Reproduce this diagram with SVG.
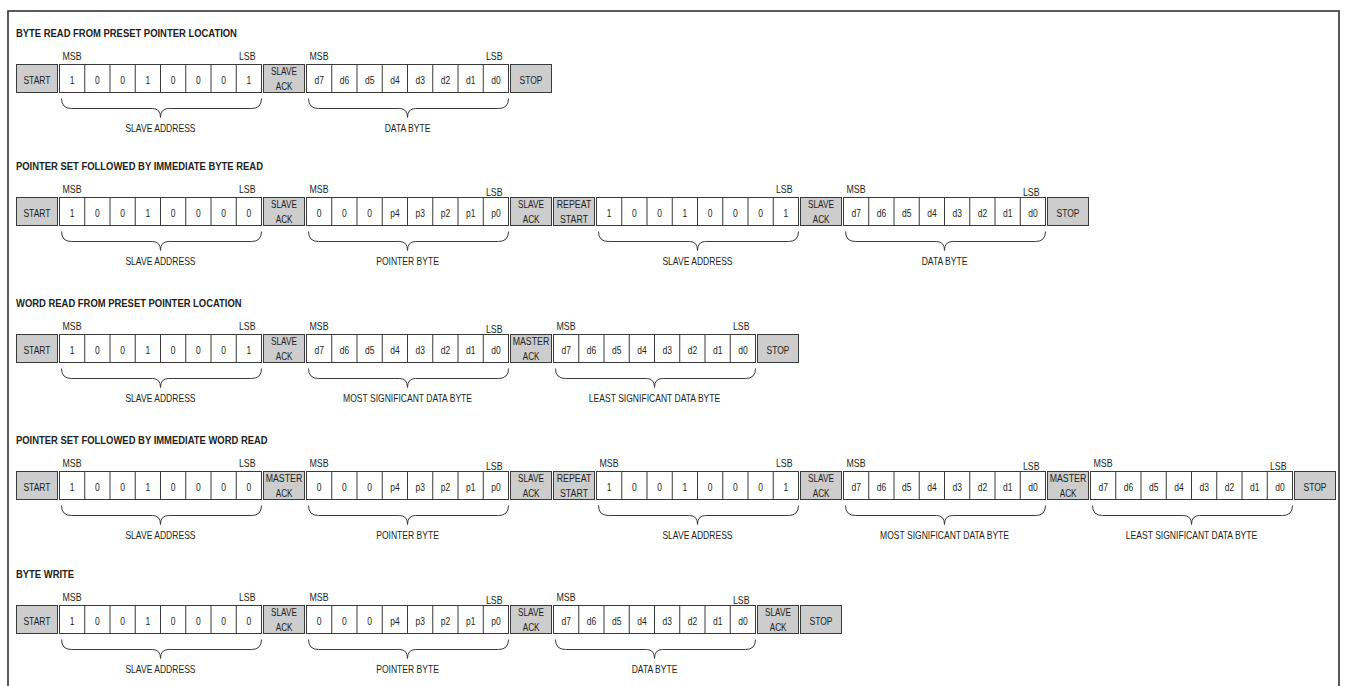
<svg xmlns="http://www.w3.org/2000/svg" xmlns:xlink="http://www.w3.org/1999/xlink" width="1346" height="686" viewBox="0 0 1346 686">
<style>
.frame{fill:none;stroke:#333;stroke-width:1.6}
.sp{fill:#cdcdcd;stroke:#3a3a3a;stroke-width:1}
.bits{fill:#fff;stroke:#3a3a3a;stroke-width:1}
.div{fill:none;stroke:#3a3a3a;stroke-width:1}
.brace{fill:none;stroke:#3a3a3a;stroke-width:1}
text{font-family:"Liberation Sans",Arial,sans-serif;fill:#231f20;transform-box:fill-box}
.t{font-size:10.5px;font-weight:bold;transform-origin:0% 50%;transform:scaleX(0.9)}
.c{font-size:11.5px;text-anchor:middle;transform-origin:50% 50%;transform:scaleX(0.74)}
.s{font-size:10.5px;text-anchor:middle;transform-origin:50% 50%;transform:scaleX(0.78)}
.w{font-size:10.5px;text-anchor:middle;transform-origin:50% 50%;transform:scaleX(0.84)}
.m{font-size:11px;transform-origin:0% 50%;transform:scaleX(0.8)}
.l{font-size:11px;text-anchor:end;transform-origin:100% 50%;transform:scaleX(0.8)}
.b{font-size:10.7px;text-anchor:middle;transform-origin:50% 50%;transform:scaleX(0.8)}
</style>
<defs>
<g id="cells"><rect class="bits" width="202" height="28"/><path class="div" d="M25.25 0v28M50.5 0v28M75.75 0v28M101 0v28M126.25 0v28M151.5 0v28M176.75 0v28"/></g>
<path id="brace" class="brace" d="M2 34Q2 44 12 44H93Q101 44 101 53Q101 44 109 44H192Q202 44 202 34"/>
<rect id="spbox" class="sp" width="41" height="28"/>
</defs>
<rect class="frame" x="8" y="11" width="1331" height="700"/>

<!-- ROW 1 -->
<g id="row1">
<text class="t" x="16" y="37">BYTE READ FROM PRESET POINTER LOCATION</text>
<g id="r1-start" transform="translate(16.5,64.5)"><use href="#spbox"/><text class="c" x="20.5" y="19.5">START</text></g>
<g id="r1-addr" transform="translate(59.5,64.5)"><use href="#cells"/><use href="#brace"/>
<text class="c" x="12.6" y="19.5">1</text><text class="c" x="37.9" y="19.5">0</text><text class="c" x="63.1" y="19.5">0</text><text class="c" x="88.4" y="19.5">1</text><text class="c" x="113.6" y="19.5">0</text><text class="c" x="138.9" y="19.5">0</text><text class="c" x="164.1" y="19.5">0</text><text class="c" x="189.4" y="19.5">1</text>
<text class="m" x="3" y="-5">MSB</text><text class="l" x="196" y="-5">LSB</text><text class="b" x="101" y="68">SLAVE ADDRESS</text></g>
<g id="r1-ack1" transform="translate(263.5,64.5)"><use href="#spbox"/><text class="s" x="20.5" y="11">SLAVE</text><text class="s" x="20.5" y="26">ACK</text></g>
<g id="r1-data" transform="translate(306.5,64.5)"><use href="#cells"/><use href="#brace"/>
<text class="c" x="12.6" y="19.5">d7</text><text class="c" x="37.9" y="19.5">d6</text><text class="c" x="63.1" y="19.5">d5</text><text class="c" x="88.4" y="19.5">d4</text><text class="c" x="113.6" y="19.5">d3</text><text class="c" x="138.9" y="19.5">d2</text><text class="c" x="164.1" y="19.5">d1</text><text class="c" x="189.4" y="19.5">d0</text>
<text class="m" x="3" y="-5">MSB</text><text class="l" x="196" y="-5">LSB</text><text class="b" x="101" y="68">DATA BYTE</text></g>
<g id="r1-stop" transform="translate(510.5,64.5)"><use href="#spbox"/><text class="c" x="20.5" y="19.5">STOP</text></g>
</g>

<!-- ROW 2 -->
<g id="row2">
<text class="t" x="16" y="170">POINTER SET FOLLOWED BY IMMEDIATE BYTE READ</text>
<g id="r2-start" transform="translate(16.5,197.5)"><use href="#spbox"/><text class="c" x="20.5" y="19.5">START</text></g>
<g id="r2-addr" transform="translate(59.5,197.5)"><use href="#cells"/><use href="#brace"/>
<text class="c" x="12.6" y="19.5">1</text><text class="c" x="37.9" y="19.5">0</text><text class="c" x="63.1" y="19.5">0</text><text class="c" x="88.4" y="19.5">1</text><text class="c" x="113.6" y="19.5">0</text><text class="c" x="138.9" y="19.5">0</text><text class="c" x="164.1" y="19.5">0</text><text class="c" x="189.4" y="19.5">0</text>
<text class="m" x="3" y="-5">MSB</text><text class="l" x="196" y="-5">LSB</text><text class="b" x="101" y="68">SLAVE ADDRESS</text></g>
<g id="r2-ack1" transform="translate(263.5,197.5)"><use href="#spbox"/><text class="s" x="20.5" y="11">SLAVE</text><text class="s" x="20.5" y="26">ACK</text></g>
<g id="r2-ptr" transform="translate(306.5,197.5)"><use href="#cells"/><use href="#brace"/>
<text class="c" x="12.6" y="19.5">0</text><text class="c" x="37.9" y="19.5">0</text><text class="c" x="63.1" y="19.5">0</text><text class="c" x="88.4" y="19.5">p4</text><text class="c" x="113.6" y="19.5">p3</text><text class="c" x="138.9" y="19.5">p2</text><text class="c" x="164.1" y="19.5">p1</text><text class="c" x="189.4" y="19.5">p0</text>
<text class="m" x="3" y="-5">MSB</text><text class="l" x="196" y="-2">LSB</text><text class="b" x="101" y="68">POINTER BYTE</text></g>
<g id="r2-ack2" transform="translate(510.5,197.5)"><use href="#spbox"/><text class="s" x="20.5" y="11">SLAVE</text><text class="s" x="20.5" y="26">ACK</text></g>
<g id="r2-rstart" transform="translate(553.5,197.5)"><use href="#spbox"/><text class="w" x="20.5" y="11">REPEAT</text><text class="w" x="20.5" y="26">START</text></g>
<g id="r2-addr2" transform="translate(596.5,197.5)"><use href="#cells"/><use href="#brace"/>
<text class="c" x="12.6" y="19.5">1</text><text class="c" x="37.9" y="19.5">0</text><text class="c" x="63.1" y="19.5">0</text><text class="c" x="88.4" y="19.5">1</text><text class="c" x="113.6" y="19.5">0</text><text class="c" x="138.9" y="19.5">0</text><text class="c" x="164.1" y="19.5">0</text><text class="c" x="189.4" y="19.5">1</text>
<text class="l" x="196" y="-5">LSB</text><text class="b" x="101" y="68">SLAVE ADDRESS</text></g>
<g id="r2-ack3" transform="translate(800.5,197.5)"><use href="#spbox"/><text class="s" x="20.5" y="11">SLAVE</text><text class="s" x="20.5" y="26">ACK</text></g>
<g id="r2-data" transform="translate(843.5,197.5)"><use href="#cells"/><use href="#brace"/>
<text class="c" x="12.6" y="19.5">d7</text><text class="c" x="37.9" y="19.5">d6</text><text class="c" x="63.1" y="19.5">d5</text><text class="c" x="88.4" y="19.5">d4</text><text class="c" x="113.6" y="19.5">d3</text><text class="c" x="138.9" y="19.5">d2</text><text class="c" x="164.1" y="19.5">d1</text><text class="c" x="189.4" y="19.5">d0</text>
<text class="m" x="3" y="-5">MSB</text><text class="l" x="196" y="-2">LSB</text><text class="b" x="101" y="68">DATA BYTE</text></g>
<g id="r2-stop" transform="translate(1047.5,197.5)"><use href="#spbox"/><text class="c" x="20.5" y="19.5">STOP</text></g>
</g>

<!-- ROW 3 -->
<g id="row3">
<text class="t" x="16" y="307">WORD READ FROM PRESET POINTER LOCATION</text>
<g id="r3-start" transform="translate(16.5,334.5)"><use href="#spbox"/><text class="c" x="20.5" y="19.5">START</text></g>
<g id="r3-addr" transform="translate(59.5,334.5)"><use href="#cells"/><use href="#brace"/>
<text class="c" x="12.6" y="19.5">1</text><text class="c" x="37.9" y="19.5">0</text><text class="c" x="63.1" y="19.5">0</text><text class="c" x="88.4" y="19.5">1</text><text class="c" x="113.6" y="19.5">0</text><text class="c" x="138.9" y="19.5">0</text><text class="c" x="164.1" y="19.5">0</text><text class="c" x="189.4" y="19.5">1</text>
<text class="m" x="3" y="-5">MSB</text><text class="l" x="196" y="-5">LSB</text><text class="b" x="101" y="68">SLAVE ADDRESS</text></g>
<g id="r3-ack1" transform="translate(263.5,334.5)"><use href="#spbox"/><text class="s" x="20.5" y="11">SLAVE</text><text class="s" x="20.5" y="26">ACK</text></g>
<g id="r3-msdata" transform="translate(306.5,334.5)"><use href="#cells"/><use href="#brace"/>
<text class="c" x="12.6" y="19.5">d7</text><text class="c" x="37.9" y="19.5">d6</text><text class="c" x="63.1" y="19.5">d5</text><text class="c" x="88.4" y="19.5">d4</text><text class="c" x="113.6" y="19.5">d3</text><text class="c" x="138.9" y="19.5">d2</text><text class="c" x="164.1" y="19.5">d1</text><text class="c" x="189.4" y="19.5">d0</text>
<text class="m" x="3" y="-5">MSB</text><text class="l" x="196" y="-2">LSB</text><text class="b" x="101" y="68">MOST SIGNIFICANT DATA BYTE</text></g>
<g id="r3-mack" transform="translate(510.5,334.5)"><use href="#spbox"/><text class="w" x="20.5" y="11">MASTER</text><text class="s" x="20.5" y="26">ACK</text></g>
<g id="r3-lsdata" transform="translate(553.5,334.5)"><use href="#cells"/><use href="#brace"/>
<text class="c" x="12.6" y="19.5">d7</text><text class="c" x="37.9" y="19.5">d6</text><text class="c" x="63.1" y="19.5">d5</text><text class="c" x="88.4" y="19.5">d4</text><text class="c" x="113.6" y="19.5">d3</text><text class="c" x="138.9" y="19.5">d2</text><text class="c" x="164.1" y="19.5">d1</text><text class="c" x="189.4" y="19.5">d0</text>
<text class="m" x="3" y="-5">MSB</text><text class="l" x="196" y="-5">LSB</text><text class="b" x="101" y="68">LEAST SIGNIFICANT DATA BYTE</text></g>
<g id="r3-stop" transform="translate(757.5,334.5)"><use href="#spbox"/><text class="c" x="20.5" y="19.5">STOP</text></g>
</g>

<!-- ROW 4 -->
<g id="row4">
<text class="t" x="16" y="444">POINTER SET FOLLOWED BY IMMEDIATE WORD READ</text>
<g id="r4-start" transform="translate(16.5,471.5)"><use href="#spbox"/><text class="c" x="20.5" y="19.5">START</text></g>
<g id="r4-addr" transform="translate(59.5,471.5)"><use href="#cells"/><use href="#brace"/>
<text class="c" x="12.6" y="19.5">1</text><text class="c" x="37.9" y="19.5">0</text><text class="c" x="63.1" y="19.5">0</text><text class="c" x="88.4" y="19.5">1</text><text class="c" x="113.6" y="19.5">0</text><text class="c" x="138.9" y="19.5">0</text><text class="c" x="164.1" y="19.5">0</text><text class="c" x="189.4" y="19.5">0</text>
<text class="m" x="3" y="-5">MSB</text><text class="l" x="196" y="-5">LSB</text><text class="b" x="101" y="68">SLAVE ADDRESS</text></g>
<g id="r4-mack1" transform="translate(263.5,471.5)"><use href="#spbox"/><text class="w" x="20.5" y="11">MASTER</text><text class="s" x="20.5" y="26">ACK</text></g>
<g id="r4-ptr" transform="translate(306.5,471.5)"><use href="#cells"/><use href="#brace"/>
<text class="c" x="12.6" y="19.5">0</text><text class="c" x="37.9" y="19.5">0</text><text class="c" x="63.1" y="19.5">0</text><text class="c" x="88.4" y="19.5">p4</text><text class="c" x="113.6" y="19.5">p3</text><text class="c" x="138.9" y="19.5">p2</text><text class="c" x="164.1" y="19.5">p1</text><text class="c" x="189.4" y="19.5">p0</text>
<text class="m" x="3" y="-5">MSB</text><text class="l" x="196" y="-2">LSB</text><text class="b" x="101" y="68">POINTER BYTE</text></g>
<g id="r4-ack2" transform="translate(510.5,471.5)"><use href="#spbox"/><text class="s" x="20.5" y="11">SLAVE</text><text class="s" x="20.5" y="26">ACK</text></g>
<g id="r4-rstart" transform="translate(553.5,471.5)"><use href="#spbox"/><text class="w" x="20.5" y="11">REPEAT</text><text class="w" x="20.5" y="26">START</text></g>
<g id="r4-addr2" transform="translate(596.5,471.5)"><use href="#cells"/><use href="#brace"/>
<text class="c" x="12.6" y="19.5">1</text><text class="c" x="37.9" y="19.5">0</text><text class="c" x="63.1" y="19.5">0</text><text class="c" x="88.4" y="19.5">1</text><text class="c" x="113.6" y="19.5">0</text><text class="c" x="138.9" y="19.5">0</text><text class="c" x="164.1" y="19.5">0</text><text class="c" x="189.4" y="19.5">1</text>
<text class="m" x="3" y="-5">MSB</text><text class="l" x="196" y="-5">LSB</text><text class="b" x="101" y="68">SLAVE ADDRESS</text></g>
<g id="r4-ack3" transform="translate(800.5,471.5)"><use href="#spbox"/><text class="s" x="20.5" y="11">SLAVE</text><text class="s" x="20.5" y="26">ACK</text></g>
<g id="r4-msdata" transform="translate(843.5,471.5)"><use href="#cells"/><use href="#brace"/>
<text class="c" x="12.6" y="19.5">d7</text><text class="c" x="37.9" y="19.5">d6</text><text class="c" x="63.1" y="19.5">d5</text><text class="c" x="88.4" y="19.5">d4</text><text class="c" x="113.6" y="19.5">d3</text><text class="c" x="138.9" y="19.5">d2</text><text class="c" x="164.1" y="19.5">d1</text><text class="c" x="189.4" y="19.5">d0</text>
<text class="m" x="3" y="-5">MSB</text><text class="l" x="196" y="-2">LSB</text><text class="b" x="101" y="68">MOST SIGNIFICANT DATA BYTE</text></g>
<g id="r4-mack2" transform="translate(1047.5,471.5)"><use href="#spbox"/><text class="w" x="20.5" y="11">MASTER</text><text class="s" x="20.5" y="26">ACK</text></g>
<g id="r4-lsdata" transform="translate(1090.5,471.5)"><use href="#cells"/><use href="#brace"/>
<text class="c" x="12.6" y="19.5">d7</text><text class="c" x="37.9" y="19.5">d6</text><text class="c" x="63.1" y="19.5">d5</text><text class="c" x="88.4" y="19.5">d4</text><text class="c" x="113.6" y="19.5">d3</text><text class="c" x="138.9" y="19.5">d2</text><text class="c" x="164.1" y="19.5">d1</text><text class="c" x="189.4" y="19.5">d0</text>
<text class="m" x="3" y="-5">MSB</text><text class="l" x="196" y="-2">LSB</text><text class="b" x="101" y="68">LEAST SIGNIFICANT DATA BYTE</text></g>
<g id="r4-stop" transform="translate(1294.5,471.5)"><use href="#spbox"/><text class="c" x="20.5" y="19.5">STOP</text></g>
</g>

<!-- ROW 5 -->
<g id="row5">
<text class="t" x="16" y="578">BYTE WRITE</text>
<g id="r5-start" transform="translate(16.5,605.5)"><use href="#spbox"/><text class="c" x="20.5" y="19.5">START</text></g>
<g id="r5-addr" transform="translate(59.5,605.5)"><use href="#cells"/><use href="#brace"/>
<text class="c" x="12.6" y="19.5">1</text><text class="c" x="37.9" y="19.5">0</text><text class="c" x="63.1" y="19.5">0</text><text class="c" x="88.4" y="19.5">1</text><text class="c" x="113.6" y="19.5">0</text><text class="c" x="138.9" y="19.5">0</text><text class="c" x="164.1" y="19.5">0</text><text class="c" x="189.4" y="19.5">0</text>
<text class="m" x="3" y="-5">MSB</text><text class="l" x="196" y="-5">LSB</text><text class="b" x="101" y="68">SLAVE ADDRESS</text></g>
<g id="r5-ack1" transform="translate(263.5,605.5)"><use href="#spbox"/><text class="s" x="20.5" y="11">SLAVE</text><text class="s" x="20.5" y="26">ACK</text></g>
<g id="r5-ptr" transform="translate(306.5,605.5)"><use href="#cells"/><use href="#brace"/>
<text class="c" x="12.6" y="19.5">0</text><text class="c" x="37.9" y="19.5">0</text><text class="c" x="63.1" y="19.5">0</text><text class="c" x="88.4" y="19.5">p4</text><text class="c" x="113.6" y="19.5">p3</text><text class="c" x="138.9" y="19.5">p2</text><text class="c" x="164.1" y="19.5">p1</text><text class="c" x="189.4" y="19.5">p0</text>
<text class="m" x="3" y="-5">MSB</text><text class="l" x="196" y="-2">LSB</text><text class="b" x="101" y="68">POINTER BYTE</text></g>
<g id="r5-ack2" transform="translate(510.5,605.5)"><use href="#spbox"/><text class="s" x="20.5" y="11">SLAVE</text><text class="s" x="20.5" y="26">ACK</text></g>
<g id="r5-data" transform="translate(553.5,605.5)"><use href="#cells"/><use href="#brace"/>
<text class="c" x="12.6" y="19.5">d7</text><text class="c" x="37.9" y="19.5">d6</text><text class="c" x="63.1" y="19.5">d5</text><text class="c" x="88.4" y="19.5">d4</text><text class="c" x="113.6" y="19.5">d3</text><text class="c" x="138.9" y="19.5">d2</text><text class="c" x="164.1" y="19.5">d1</text><text class="c" x="189.4" y="19.5">d0</text>
<text class="m" x="3" y="-5">MSB</text><text class="l" x="196" y="-2">LSB</text><text class="b" x="101" y="68">DATA BYTE</text></g>
<g id="r5-ack3" transform="translate(757.5,605.5)"><use href="#spbox"/><text class="s" x="20.5" y="11">SLAVE</text><text class="s" x="20.5" y="26">ACK</text></g>
<g id="r5-stop" transform="translate(800.5,605.5)"><use href="#spbox"/><text class="c" x="20.5" y="19.5">STOP</text></g>
</g>
<g id="connectors"/>
</svg>
